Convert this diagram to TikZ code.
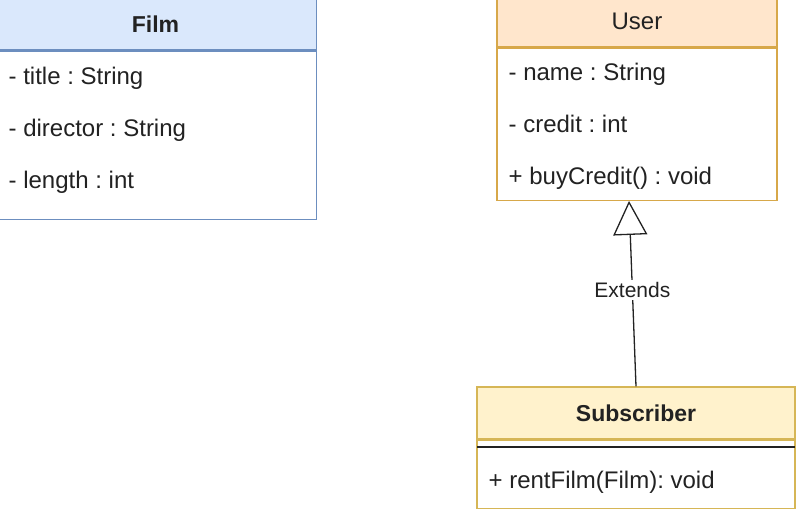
\documentclass[tikz,border=0pt]{standalone}
\usepackage{fontspec}
\setmainfont{Liberation Sans}
\usetikzlibrary{positioning,arrows.meta}
\definecolor{filmfill}{HTML}{DAE8FC}
\definecolor{filmline}{HTML}{6C8EBF}
\definecolor{userfill}{HTML}{FFE6CC}
\definecolor{userline}{HTML}{D7A84A}
\definecolor{subfill}{HTML}{FFF2CC}
\definecolor{subline}{HTML}{D6B656}
\definecolor{ink}{HTML}{222222}
\frenchspacing

\begin{document}
\begin{tikzpicture}[x=1pt,y=-1pt,line width=1.3pt,
    every node/.style={font=\fontsize{24}{28}\selectfont,text=ink},
    head/.style={draw,minimum height=52,inner sep=0},
    body/.style={draw,fill=white,inner sep=0},
    row/.style={anchor=base west,inner sep=0},
    extends/.style={draw=ink,-{Triangle[fill=white,length=34pt,width=34pt]}}
  ]
  \useasboundingbox (0,0) rectangle (796,510);

  % the class Film
  \node[head,fill=filmfill,draw=filmline,minimum width=322,font=\fontsize{23}{28}\selectfont\bfseries] (film) at (155.5,24) {Film};
  \node[body,draw=filmline,minimum width=322,minimum height=168,below=0pt of film] (filmbody) {};
  \foreach \txt/\y [count=\i] in {{- title : String}/85,{- director : String}/137,{- length : int}/189}
    \node[row] (film\i) at (8,\y) {\txt};

  % the class User
  \node[head,fill=userfill,draw=userline,minimum width=280] (user) at (637,21) {User};
  \node[body,draw=userline,minimum width=280,minimum height=152,below=0pt of user] (userbody) {};
  \foreach \txt/\y [count=\i] in {{- name : String}/81,{- credit : int}/133,{+ buyCredit() : void}/185}
    \node[row] (user\i) at (508,\y) {\txt};

  % the class Subscriber
  \node[head,fill=subfill,draw=subline,minimum width=318,font=\fontsize{23}{28}\selectfont\bfseries] (sub) at (636,413) {Subscriber};
  \node[body,draw=subline,minimum width=318,minimum height=68,below=0pt of sub] (subbody) {};
  \coordinate (sepl) at (477,447);
  \coordinate (sepr) at (795,447);
  \draw[ink] (sepl) -- (sepr);
  \node[row] (sub1) at (488,489) {+ rentFilm(Film): void};

  % the edge
  \draw[extends] (sub.north) -- ([xshift=-8pt]userbody.south)
    node[pos=0.52,fill=white,inner sep=2pt,font=\fontsize{21}{24}\selectfont] (ext) {Extends};
\end{tikzpicture}
\end{document}
